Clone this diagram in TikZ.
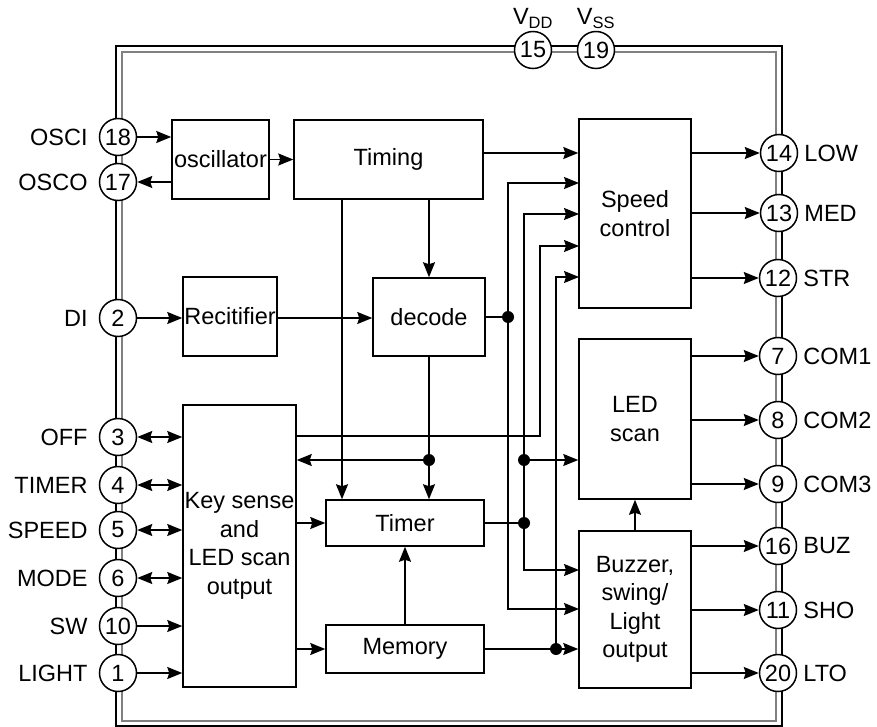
\documentclass[tikz,border=0pt]{standalone}
\usepackage{fontspec}
\setmainfont{Liberation Sans}
\usetikzlibrary{arrows.meta}

\tikzset{
  >={Stealth[length=15pt,width=12pt,inset=2pt]},
  block/.style={draw, line width=1.5pt, fill=white, inner sep=0pt, align=center,
    font=\fontsize{23.5}{28.5}\selectfont},
  pin/.style={draw, circle, line width=1.5pt, fill=white, minimum size=37pt, inner sep=0pt,
    font=\fontsize{23.5}{24}\selectfont},
  pinlabel/.style={font=\fontsize{23.5}{24}\selectfont, inner sep=0pt},
  lpin/.style={pin, label={[pinlabel, label distance=11pt]left:#1}},
  rpin/.style={pin, label={[pinlabel, label distance=6pt]right:#1}},
  tpin/.style={pin, label={[pinlabel, label distance=2pt]above:#1}},
  wire/.style={line width=1.5pt},
  dot/.style={circle, fill, inner sep=0pt, minimum size=12pt},
}

\begin{document}
\begin{tikzpicture}[x=1pt,y=-1pt]

\useasboundingbox (0,0) rectangle (877,727);

% chip outline
\draw[line width=1.5pt] (116,46) rectangle (782,726);
\draw[line width=1.2pt, gray] (122,52) rectangle (776,721);

% blocks
\node[block, minimum width=97pt,  minimum height=79pt]  (osc)       at (220.5,159.5) {oscillator};
\node[block, minimum width=189pt, minimum height=79pt]  (timing)    at (388.5,159.5) {Timing};
\node[block, minimum width=94pt,  minimum height=79pt]  (rectifier) at (230,316.5)   {Recitifier};
\node[block, minimum width=112pt, minimum height=78pt]  (decode)    at (429,317)     {decode};
\node[block, minimum width=112pt, minimum height=189pt] (speed)     at (635,213.5)   {Speed\\control};
\node[block, minimum width=112pt, minimum height=160pt] (led)       at (635,419)     {LED\\scan};
\node[block, minimum width=112pt, minimum height=157pt] (buzzer)    at (635,609.5)   {Buzzer,\\swing/\\Light\\output};
\node[block, minimum width=113pt, minimum height=282pt] (keys)      at (239.5,546)   {Key sense\\and\\LED scan\\output};
\node[block, minimum width=158pt, minimum height=46pt]  (timer)     at (405,523)     {Timer};
\node[block, minimum width=158pt, minimum height=48pt]  (memory)    at (405,649)     {Memory};

% pins
\node[tpin=V\textsubscript{DD}] (p15) at (533,50) {15};
\node[tpin=V\textsubscript{SS}] (p19) at (596,50) {19};

\node[lpin=OSCI]  (p18) at (118,137) {18};
\node[lpin=OSCO]  (p17) at (118,182) {17};
\node[lpin=DI]    (p2)  at (118,318) {2};
\node[lpin=OFF]   (p3)  at (118,437) {3};
\node[lpin=TIMER] (p4)  at (118,485) {4};
\node[lpin=SPEED] (p5)  at (118,530) {5};
\node[lpin=MODE]  (p6)  at (118,578) {6};
\node[lpin=SW]    (p10) at (118,626) {10};
\node[lpin=LIGHT] (p1)  at (118,673) {1};

\node[rpin=LOW]  (p14) at (779,153) {14};
\node[rpin=MED]  (p13) at (779,213) {13};
\node[rpin=STR]  (p12) at (778,278) {12};
\node[rpin=COM1] (p7)  at (778,356) {7};
\node[rpin=COM2] (p8)  at (778,420) {8};
\node[rpin=COM3] (p9)  at (778,484) {9};
\node[rpin=BUZ]  (p16) at (778,546) {16};
\node[rpin=SHO]  (p11) at (778,610) {11};
\node[rpin=LTO]  (p20) at (778,673) {20};

% junctions and bus ends
\coordinate (j1) at (508,317);
\coordinate (j2) at (524,523);
\coordinate (j3) at (524,460);
\coordinate (j4) at (556,649);
\coordinate (j5) at (429,460);
\coordinate (k1) at (296,436);
\coordinate (b3) at (540,246);
\coordinate (tt) at (342,199);
\coordinate (s1) at (579,183);
\coordinate (s2) at (579,214);
\coordinate (s3) at (579,246);
\coordinate (s4) at (579,277);
\coordinate (u1) at (579,570);
\coordinate (u2) at (579,609);

% left side
\draw[wire,->] (p18) -- (p18 -| osc.west);
\draw[wire,->] (osc.west |- p17) -- (p17);
\draw[wire,->] (osc) -- (timing);
\draw[wire,->] (p2) -- (p2 -| rectifier.west);
\draw[wire,->] (rectifier.east |- p2) -- (p2 -| decode.west);
\foreach \p in {p3,p4,p5,p6}
  \draw[wire,<->] (\p) -- (\p -| keys.west);
\foreach \p in {p10,p1}
  \draw[wire,->] (\p) -- (\p -| keys.west);

% middle
\draw[wire,->] (decode.north |- timing.south) -- (decode.north);
\draw[wire,->] (tt) -- (tt |- timer.north);
\draw[wire,->] (decode.south) -- (decode.south |- timer.north);
\draw[wire,->] (j5) -- (j5 -| keys.east);
\draw[wire,->] (keys.east |- timer) -- (timer.west);
\draw[wire,->] (keys.east |- memory) -- (memory.west);
\draw[wire,->] (memory.north) -- (timer.south);

% buses to speed control, LED scan and buzzer
\draw[wire,->] (timing.east |- p14) -- (speed.west |- p14);
\draw[wire] (decode.east) -- (j1);
\draw[wire,->] (j1) |- (s1);
\draw[wire,->] (j1) |- (u2);
\draw[wire] (timer.east) -- (j2);
\draw[wire,->] (j2) |- (s2);
\draw[wire,->] (j2) |- (u1);
\draw[wire,->] (j3) -- (j3 -| led.west);
\draw[wire,->] (k1) -| (b3) -- (s3);
\draw[wire] (memory.east) -- (j4);
\draw[wire,->] (j4) -- (j4 -| buzzer.west);
\draw[wire,->] (j4) |- (s4);
\draw[wire,->] (buzzer.north) -- (led.south);

\foreach \j in {j1,j2,j3,j4,j5}
  \node[dot] at (\j) {};

% outputs
\foreach \p in {p14,p13,p12}
  \draw[wire,->] (speed.east |- \p) -- (\p);
\foreach \p in {p7,p8,p9}
  \draw[wire,->] (led.east |- \p) -- (\p);
\foreach \p in {p16,p11,p20}
  \draw[wire,->] (buzzer.east |- \p) -- (\p);

\end{tikzpicture}
\end{document}
